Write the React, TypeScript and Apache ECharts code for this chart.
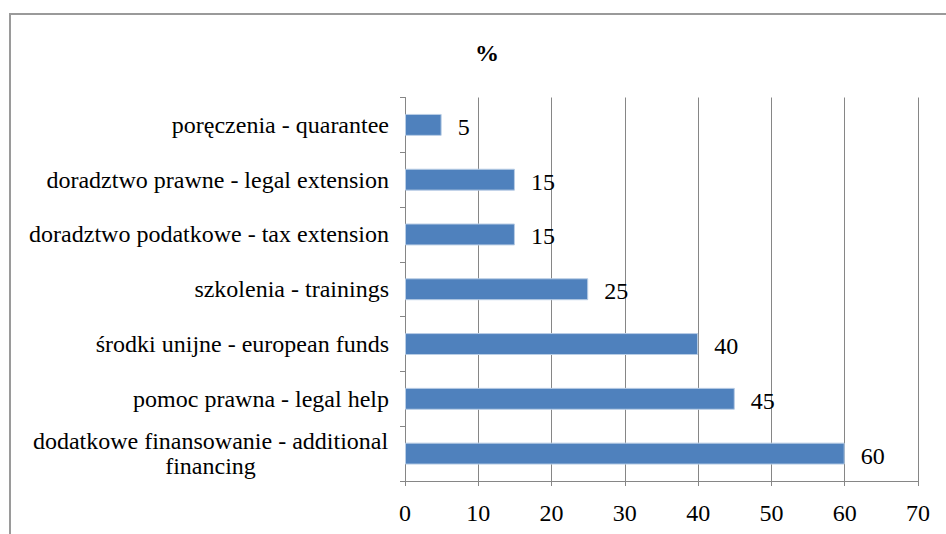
import React, { useEffect, useRef } from "react";
import * as echarts from "echarts";

const categories = [
  "dodatkowe finansowanie - additional\nfinancing",
  "pomoc prawna - legal help",
  "środki unijne - european funds",
  "szkolenia - trainings",
  "doradztwo podatkowe - tax extension",
  "doradztwo prawne - legal extension",
  "poręczenia - quarantee",
];
const values = [60, 45, 40, 25, 15, 15, 5];
const xTicks = { min: 0, max: 70, interval: 10 };
const title = "%";

const FONT = "Liberation Serif";
const FS = 24;

export default function App() {
  const ref = useRef<HTMLDivElement>(null);
  useEffect(() => {
    document.body.style.margin = "0";
    const chart = echarts.init(ref.current!, null, { renderer: "svg" });
    chart.setOption({
      animation: false,
      backgroundColor: "#ffffff",
      textStyle: { fontFamily: FONT },
      title: {
        text: title,
        left: 470,
        top: 36,
        textStyle: { fontFamily: FONT, fontSize: 24, fontWeight: "bold", color: "#000" },
      },
      graphic: [
        {
          type: "rect",
          shape: { x: 10, y: 14, width: 1000, height: 600 },
          style: { fill: "none", stroke: "#9a9a9a", lineWidth: 2 },
          silent: true,
        },
      ],
      grid: { left: 405, right: 28, top: 97.5, bottom: 53, containLabel: false },
      xAxis: {
        type: "value",
        min: xTicks.min,
        max: xTicks.max,
        interval: xTicks.interval,
        axisLine: { show: true, lineStyle: { color: "#868686", width: 1 } },
        axisTick: { show: true, length: 5, lineStyle: { color: "#868686" } },
        splitLine: { show: true, lineStyle: { color: "#868686", width: 1 } },
        axisLabel: { fontFamily: FONT, fontSize: FS, color: "#000", margin: 20 },
      },
      yAxis: {
        type: "category",
        data: categories,
        axisLine: { show: true, lineStyle: { color: "#868686", width: 1 } },
        axisTick: { show: true, length: 5, lineStyle: { color: "#868686" } },
        splitLine: { show: false },
        axisLabel: {
          fontFamily: FONT,
          fontSize: FS,
          color: "#000",
          margin: 16,
          align: "right",
          formatter: (v: string) => {
            if (v.indexOf("\n") >= 0) {
              return v
                .split("\n")
                .map((l) => "{c|" + l + "}")
                .join("\n");
            }
            return "{n|" + v + "}";
          },
          rich: {
            c: {
              width: 357,
              align: "center",
              fontFamily: FONT,
              fontSize: FS,
              color: "#000",
              lineHeight: 25,
            },
            n: {
              fontFamily: FONT,
              fontSize: FS,
              color: "#000",
            },
          },
        },
      },
      series: [
        {
          type: "bar",
          data: values,
          barCategoryGap: "60%",
          itemStyle: { color: "#4F81BD", borderColor: "#b9cde5", borderWidth: 1 },
          label: {
            show: true,
            position: "right",
            distance: 16,
            offset: [0, 2],
            fontFamily: FONT,
            fontSize: FS,
            color: "#000",
          },
        },
      ],
    });
    return () => chart.dispose();
  }, []);
  return (
    <div
      ref={ref}
      style={{ position: "fixed", left: 0, top: 0, width: 946, height: 534 }}
    />
  );
}
